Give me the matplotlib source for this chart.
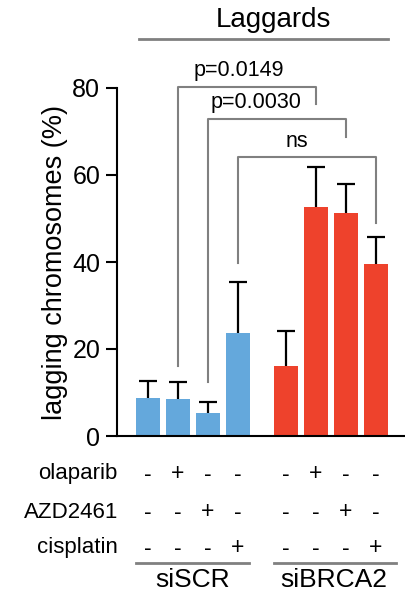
import numpy as np
import matplotlib
matplotlib.use("Agg")
import matplotlib.pyplot as plt
import matplotlib.transforms as mtransforms

plt.rcParams["font.family"] = ["Liberation Sans", "DejaVu Sans"]

#################### DATA ####################
groups = ["siSCR", "siBRCA2"]
means = [8.7, 8.5, 5.3, 23.7, 16.1, 52.6, 51.3, 39.5]
errs = [3.9, 3.9, 2.5, 11.7, 8.0, 9.3, 6.7, 6.2]
treatments = ["olaparib", "AZD2461", "cisplatin"]
signs = [
    ["-", "+", "-", "-", "-", "+", "-", "-"],
    ["-", "-", "+", "-", "-", "-", "+", "-"],
    ["-", "-", "-", "+", "-", "-", "-", "+"],
]
# (left bar, right bar, top, left drop, right drop, label)
brackets = [
    (1, 5, 80.2, 16.0, 76.3, "p=0.0149"),
    (2, 6, 72.9, 12.4, 68.7, "p=0.0030"),
    (3, 7, 64.1, 39.8, 49.0, "ns"),
]
title = "Laggards"
ylabel = "lagging chromosomes (%)"
################## END DATA ##################

blue = "#64a8dc"
red = "#ee422c"
gray = "#808080"

x = np.r_[np.arange(4), np.arange(4) + 4.6]
colors = [blue] * 4 + [red] * 4
tops = np.array(means) + np.array(errs)

fig = plt.figure(figsize=(4.06, 5.93), dpi=100)
ax = fig.add_axes([117 / 406, 1 - 436 / 593, 1 - 117 / 406, (436 - 88) / 593])

ax.bar(x, means, width=0.83, color=colors, zorder=2)
# upper-only error bars
ax.vlines(x, means, tops, color="black", lw=1.6, zorder=1)
ax.hlines(tops, x - 0.3, x + 0.3, color="black", lw=1.6, zorder=1)

ax.set_xlim(-1.033, 8.6)
ax.set_ylim(0, 80)
ax.set_yticks([0, 20, 40, 60, 80])
ax.set_xticks([])
ax.spines[["top", "right"]].set_visible(False)
ax.spines["left"].set_linewidth(1.5)
ax.spines["bottom"].set_linewidth(1.5)
ax.tick_params(axis="y", length=8, width=1.5, labelsize=18, pad=4)
ax.set_ylabel(ylabel, fontsize=19.5, labelpad=3)

# significance brackets
for i, j, top, yl, yr, lab in brackets:
    ax.plot([x[i], x[i], x[j], x[j]], [yl, top, top, yr], color=gray,
            lw=1.5, clip_on=False, zorder=0)
label_x = {"p=0.0149": 3.03, "p=0.0030": 3.6, "ns": 4.96}
for i, j, top, yl, yr, lab in brackets:
    ax.text(label_x[lab], top + 1.3, lab, ha="center", va="bottom",
            fontsize=15.5, clip_on=False)

# top label
ax.plot([-0.3, 8.0], [91.3, 91.3], color=gray, lw=2, clip_on=False)
ax.text(4.17, 95.6, title, ha="center", va="center", fontsize=20)

# treatment table under the bars
trans = mtransforms.blended_transform_factory(ax.transData, fig.transFigure)
row_y = [1 - 474 / 593, 1 - 512 / 593, 1 - 548 / 593]
for name, row, yy in zip(treatments, signs, row_y):
    fig.text(118 / 406, yy, name, ha="right", va="center", fontsize=16)
    for xx, s in zip(x, row):
        ax.text(xx, yy, s, transform=trans, ha="center", va="center",
                fontsize=16.5)

line_y = 1 - 563 / 593
ax.plot([-0.4, 3.37], [line_y, line_y], color=gray, lw=2,
        transform=trans, clip_on=False)
ax.plot([4.2, 8.27], [line_y, line_y], color=gray, lw=2,
        transform=trans, clip_on=False)
ax.text(1.5, 1 - 580 / 593, groups[0], transform=trans, ha="center",
        va="center", fontsize=19)
ax.text(6.2, 1 - 580 / 593, groups[1], transform=trans, ha="center",
        va="center", fontsize=19)

fig.savefig("out.png", dpi=100)
